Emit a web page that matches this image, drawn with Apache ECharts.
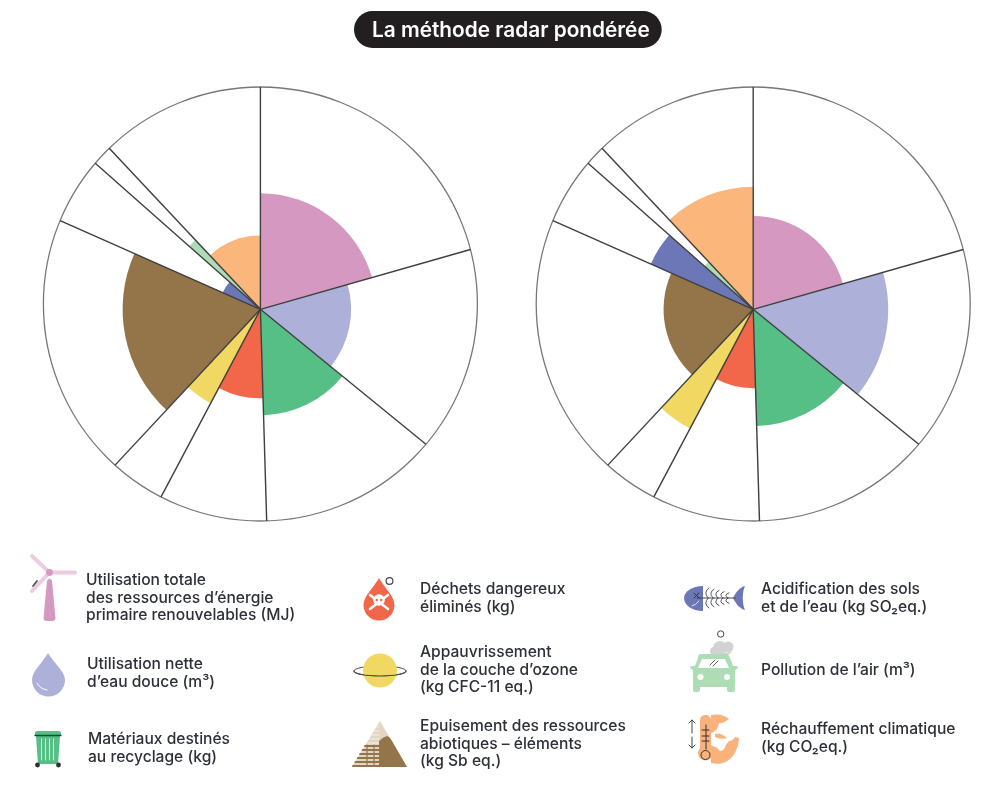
<!DOCTYPE html>
<html><head><meta charset="utf-8">
<style>html,body{margin:0;padding:0;background:#fff}#c{width:984px;height:805px}</style>
<script src="https://cdn.jsdelivr.net/npm/echarts@6/dist/echarts.min.js"></script>
</head><body><div id="c"></div>
<script>
// Data: the share of the circle (degrees) and the score on a 0-100 scale
var categories = ['Utilisation totale\ndes ressources d\u2019énergie\nprimaire renouvelables (MJ)','Utilisation nette\nd\u2019eau douce (m³)','Matériaux destinés\nau recyclage (kg)','Déchets dangereux\néliminés (kg)','Appauvrissement\nde la couche d\u2019ozone\n(kg CFC-11 eq.)','Epuisement des ressources\nabiotiques \u2013 éléments\n(kg Sb eq.)','Acidification des sols\net de l\u2019eau (kg SO₂eq.)','Pollution de l\u2019air (m³)','Réchauffement climatique\n(kg CO₂eq.)'];
var colors = ['#D598C1','#ADB0D9','#55BF86','#F2664A','#F1D863','#94754A','#6C77B7','#ADDCB5','#FBB67B'];
var weights = [74.1,55.1,49.1,29.6,15.1,70.9,17.6,5.3,43.2];
var valuesLeft = [53.5,41.8,48.8,41,49,63.5,19,43.8,34];
var valuesRight = [43,62.2,53.8,36.4,62.2,41.3,51.6,30,56.5];
var titleText = 'La méthode radar pondérée';

var R = 217, CY_RAY = 309.3, CY_RING = 304;
var CX = [260.4, 753.2];
var FONT = 'Inter';

function slices(vals){var a=0;return vals.map(function(v,i){var s=a;a+=weights[i];return [v,s,a,i];});}
function rays(){var a=0,out=[[100,0]];weights.forEach(function(w,i){a+=w;if(i<weights.length-1)out.push([100,a]);});return out;}

function sectorItem(params,api){
  var sys=params.coordSys, p=api.coord([api.value(0),api.value(1)]);
  var r=Math.hypot(p[0]-sys.cx,p[1]-sys.cy);
  return {type:'sector',shape:{cx:sys.cx,cy:sys.cy,r:r,r0:0,clockwise:true,
    startAngle:(api.value(1)-90)*Math.PI/180,endAngle:(api.value(2)-90)*Math.PI/180},
    style:{fill:colors[api.value(3)]}};
}
function rayItem(params,api){
  var sys=params.coordSys, p=api.coord([api.value(0),api.value(1)]);
  var dx=(p[0]-sys.cx)/R, dy=(p[1]-sys.cy)/R;
  var oy=CY_RAY-CY_RING, b=dy*oy, t=-b+Math.sqrt(b*b-(oy*oy-R*R));
  return {type:'line',shape:{x1:sys.cx,y1:sys.cy,x2:sys.cx+dx*t,y2:sys.cy+dy*t},
    style:{stroke:'#3f3f3f',lineWidth:1.4}};
}
function hiddenRadius(i){return {polarIndex:i,show:false,min:0,max:100,type:'value'};}
function angle(i,ring){return {polarIndex:i,type:'value',min:0,max:360,startAngle:90,clockwise:true,
  axisLine:{show:!!ring,lineStyle:{color:'#777777',width:1.3}},axisTick:{show:false},axisLabel:{show:false},splitLine:{show:false},minorTick:{show:false}};}

// Legend layout
var legendPos = [[86,580.5],[87,664.5],[88,739.5],[420,589.5],[420,652.5],[420,726.5],[761,589.5],[761,670.5],[761,729.5]];
var ink='#2e3038', dark='#44464c', white='#ffffff';
var g=[], ic=[];
function path(d,fill,stroke,lw){ic.push({type:'path',shape:{pathData:d},silent:true,style:{fill:fill||'none',stroke:stroke||'none',lineWidth:lw||1,lineCap:'round',lineJoin:'round'}});}
function circ(x,y,r,fill,stroke,lw){ic.push({type:'circle',shape:{cx:x,cy:y,r:r},silent:true,style:{fill:fill||'none',stroke:stroke||'none',lineWidth:lw||1}});}

categories.forEach(function(t,i){
  g.push({type:'text',x:legendPos[i][0],y:legendPos[i][1]-8.75,silent:true,z:6,
    style:{text:t,fill:ink,font:'500 15.6px '+FONT,lineHeight:17.5,textVerticalAlign:'top'}});
});
// Turbine
path('M49.5 572.5L32 556','none','#EDCBE1',4);path('M49.5 572.5L75 572.5','none','#EDCBE1',4);path('M49.5 572.5L32 591','none','#EDCBE1',4);
circ(49.5,572.5,3.4,colors[0]);path('M47 581Q49.5 576 52 581L55.5 618Q55.5 621 52 621L47 621Q43.5 621 43.5 618Z',colors[0]);
path('M33 586L37 581','none','#555',1.8);
// Water drop
path('M48 653C52 661 65 671 65 680A16.5 16.5 0 0 1 32 680C32 671 44 661 48 653Z',colors[1]);
path('M37 683Q40 689 47 690','none',white,1);
// Bin
path('M36 736L60 736L58 764L38 764Z',colors[2]);path('M35 735L35 733Q35 731 38 731L58 731Q61 731 61 733L61 735Z',colors[2]);
path('M35 735.5L61 735.5','none','#2f3a33',1.3);
[41.5,45.5,49.5,53.5].forEach(function(x){path('M'+x+' 739L'+x+' 760','none','#d6f0e2',1);});
circ(37.5,765,2.4,'#2f2f2f');circ(58.5,765,2.4,'#2f2f2f');
// Hazard drop
path('M379 578C383 586 394.5 596 394.5 605A15.5 15.5 0 0 1 363.5 605C363.5 596 375 586 379 578Z',colors[3]);
circ(389.5,581,3.4,white,dark,1.2);
path('M370 595L388 609','none',white,2.6);path('M388 595L370 609','none',white,2.6);
circ(379,600,5.8,white);circ(376.8,600,1.2,colors[3]);circ(381.2,600,1.2,colors[3]);
// Planet
ic.push({type:'ellipse',shape:{cx:380,cy:671,rx:26,ry:5},silent:true,style:{fill:'none',stroke:dark,lineWidth:1}});
circ(380,670.5,17,colors[4]);
path('M354 671A26 5 0 0 0 406 671','none',dark,1.2);
// Mountain
path('M380 721L407 767L352 767Z','#E2D5C2');
[727,731,735,739,743].forEach(function(y){var x=380-(y-721)*0.6;path('M'+(x+1)+' '+y+'L379 '+y,'none',white,0.7);});
[746,750,754,758,762,766].forEach(function(y){var x=380-(y-721)*0.6;path('M'+x+' '+y+'L379 '+y,'none',colors[5],2);});
path('M367 745L367 766','none',colors[5],1.2);path('M374 745L374 766','none',colors[5],1.2);
path('M379 767L379 741Q383 737 387 736Q390 737 392 741L407 767Z',colors[5]);
// Fish
path('M703 586L703 611C692 611 684 605 684 598C684 592 692 586 703 586Z',colors[6]);
path('M733 598C736 592 740 587 745 586C742 592 742 604 745 610C740 609 736 604 733 598Z',colors[6]);
path('M697 598L735 598','none',dark,1);
path('M694 593L699 598M699 593L694 598','none','#333',1);
path('M692 606Q696 605 699 601','none',white,0.8);
[708,713,718,723,728].forEach(function(x,i){var h=10-i*1.2;path('M'+x+' 598Q'+(x-5)+' '+(598-h*0.6)+' '+(x+1)+' '+(598-h)+'M'+x+' 598Q'+(x-5)+' '+(598+h*0.6)+' '+(x+1)+' '+(598+h),'none',dark,0.9);});
// Car and smoke
circ(720.7,634,3.2,white,dark,1);
circ(720,648,7,'#D2D2D2');circ(728,647,5.5,'#D2D2D2');circ(714,651,4,'#D2D2D2');path('M711 655L733 652L726 656Z','#D2D2D2');
path('M701 654L725 654Q729 654 730 658L733 666L736 666Q738 666 738 668L735 670L735 690Q735 692 733 692L729 692Q727 692 727 690L727 687L700 687L700 690Q700 692 698 692L695 692Q693 692 693 690L693 670L690 668Q690 666 692 666L695 666L698 658Q698 654 701 654Z',colors[7]);
path('M702 659L725 659L729 668L698 668Z',white);
circ(700.5,677,3,white);circ(727,677,3,white);
path('M710 665L715 660M713 666L718 661','none','#555',0.9);
// Globe and thermometer
var or='#F9B27B';
path('M711 715Q722 713 729 719Q723 724 719 723Q718 731 711 733Z',or);
path('M715 734Q720 732 727 738Q721 740 715 737Z',or);
path('M711 763C726 767 738 756 739 738L735 737Q733 741 729 741L726 745Q724 751 720 751L717 748L711 745Z',or);
path('M705.5 715A5 5 0 0 1 711 720L711 748A7.5 7.5 0 1 1 700 748L700 720A5 5 0 0 1 705.5 715Z',or);
path('M706 725L706 749','none','#333',1);path('M702 730L709 730M702 736L709 736M702 741L709 741','none','#333',1);
circ(705.5,755,4.5,'none','#333',1);
path('M692 733L692 720M689 723L692 720L695 723M692 737L692 748M689 745L692 748L695 745','none',dark,1);

var polars=[];
[0,1].forEach(function(i){polars.push({center:[CX[i],CY_RAY],radius:R});});
[0,1].forEach(function(i){polars.push({center:[CX[i],CY_RING],radius:R});});

var opt={
  animation:false,
  backgroundColor:'#fff',
  title:{text:titleText,left:354,top:11,backgroundColor:'#231F20',borderRadius:18.5,padding:[9,12,7,18],
    textStyle:{color:'#fff',fontFamily:FONT,fontWeight:600,fontSize:20.8,lineHeight:21}},
  polar:polars,
  angleAxis:[angle(0),angle(1),angle(2,true),angle(3,true)],
  radiusAxis:[hiddenRadius(0),hiddenRadius(1),hiddenRadius(2),hiddenRadius(3)],
  graphic:g,
  series:[
    {type:'custom',coordinateSystem:'polar',polarIndex:0,clip:false,silent:true,z:3,encode:{radius:0,angle:1},renderItem:sectorItem,data:slices(valuesLeft)},
    {type:'custom',coordinateSystem:'polar',polarIndex:1,clip:false,silent:true,z:3,encode:{radius:0,angle:1},renderItem:sectorItem,data:slices(valuesRight)},
    {type:'custom',coordinateSystem:'polar',polarIndex:0,clip:false,silent:true,z:4,encode:{radius:0,angle:1},renderItem:rayItem,data:rays()},
    {type:'custom',coordinateSystem:'polar',polarIndex:1,clip:false,silent:true,z:4,encode:{radius:0,angle:1},renderItem:rayItem,data:rays()},
    {type:'custom',coordinateSystem:'none',silent:true,z:5,data:[[0]],renderItem:function(){return {type:'group',children:ic};}}
  ]
};
echarts.init(document.getElementById('c'),null,{renderer:'canvas'}).setOption(opt);
</script></body></html>
